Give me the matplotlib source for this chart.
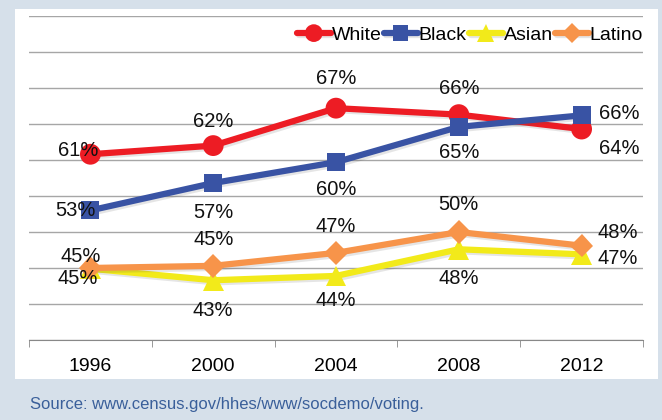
import matplotlib as mpl
import matplotlib.pyplot as plt
import matplotlib.patheffects as pe
from matplotlib.patches import Rectangle

mpl.use('agg')
plt.rcParams['font.family'] = ['Liberation Sans', 'DejaVu Sans']

# data
years = ['1996', '2000', '2004', '2008', '2012']
white = [60.8, 62.0, 67.2, 66.3, 64.3]
black = [53.0, 56.8, 59.7, 64.6, 66.2]
asian = [44.9, 43.3, 43.9, 47.6, 46.9]
latino = [45.0, 45.3, 47.1, 50.0, 48.1]
source_note = 'Source: www.census.gov/hhes/www/socdemo/voting.'

# label offsets in pixels (dx, dy)
white_off = [(-12, 4), (0, 24), (0, 30), (0, 26), (38, -19)]
black_off = [(-15, 0), (0, -29), (0, -27), (0, -26), (38, 2)]
asian_off = [(-13, -10), (0, -30), (0, -25), (0, -29), (36, -4)]
latino_off = [(-10, 12), (0, 26), (0, 26), (0, 27), (36, 13)]

series = [
    ('White', white, '#ED1C24', 'o', 15, white_off),
    ('Black', black, '#3953A4', 's', 13, black_off),
    ('Asian', asian, '#F2EA1A', '^', 15, asian_off),
    ('Latino', latino, '#F7944A', 'D', 12, latino_off),
]

bg = '#D6E0EA'
fig = plt.figure(figsize=(6.62, 4.2), dpi=100, facecolor=bg)
fig.patches.append(Rectangle((15 / 662, 1 - 379 / 420), 643 / 662, 370 / 420,
                             transform=fig.transFigure, facecolor='white',
                             edgecolor='none', zorder=0))

ax = fig.add_axes([29 / 662, 80 / 420, 614 / 662, 324 / 420], zorder=2)
ax.set_facecolor('none')

x = list(range(len(years)))
shadow = [pe.SimpleLineShadow(offset=(1.5, -1.5), alpha=0.15, shadow_color='#555555'), pe.Normal()]
for name, vals, col, mk, ms, offs in series:
    ax.plot(x, vals, color=col, lw=4.5, marker=mk, markersize=ms,
            markeredgewidth=0, label=name, path_effects=shadow, solid_capstyle='round')
    for xi, v, (dx, dy) in zip(x, vals, offs):
        ax.annotate(f'{v:.0f}%', (xi, v), xytext=(dx, dy), textcoords='offset pixels',
                    ha='center', va='center', fontsize=14.5, color='#111111', zorder=10)

ax.set_xlim(-0.5, len(years) - 0.5)
ax.set_ylim(35, 80)
ax.set_yticks(range(35, 81, 5))
ax.yaxis.grid(True, color='#A6A6A6', lw=1)
ax.set_axisbelow(True)
ax.tick_params(axis='y', length=0, labelleft=False)

ax.set_xticks(x)
ax.set_xticklabels(years, fontsize=14)
ax.set_xticks([i - 0.5 for i in range(len(years) + 1)], minor=True)
ax.tick_params(axis='x', which='major', length=0, pad=13)
ax.tick_params(axis='x', which='minor', length=5, color='#888888', direction='out')
for s in ['top', 'right', 'left']:
    ax.spines[s].set_visible(False)
ax.spines['bottom'].set_color('#888888')

leg = ax.legend(ncol=4, loc='center right', bbox_to_anchor=(1.0, 0.941), frameon=False,
                fontsize=14, handlelength=1.75, handletextpad=0.05, columnspacing=0.1,
                borderaxespad=0, borderpad=0, markerscale=0.85)

fig.text(30 / 662, 1 - 405 / 420, source_note, color='#3A5F9A', fontsize=12,
         va='center')

fig.savefig('out.png', dpi=100, facecolor=bg)
